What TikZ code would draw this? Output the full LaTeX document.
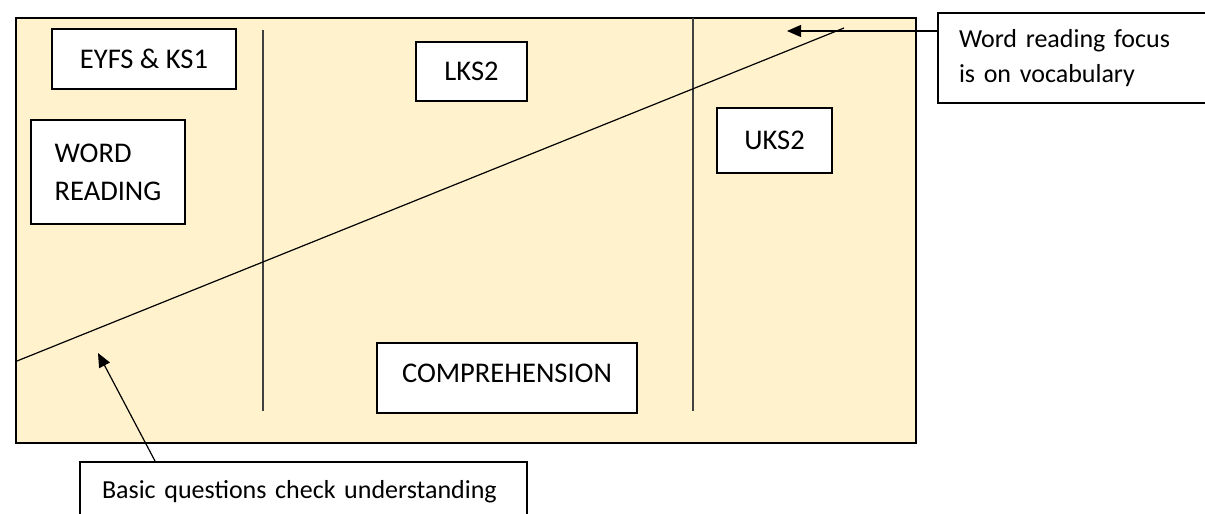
\documentclass[tikz,border=0pt]{standalone}
\usepackage{fontspec}
\setmainfont{Carlito}
\usetikzlibrary{arrows.meta}
\definecolor{cream}{HTML}{FFF2CC}
\begin{document}
\begin{tikzpicture}[x=1pt,y=-1pt,
  lbl/.style={draw=black, line width=2pt, fill=white, inner sep=0pt, text=black,
    font=\fontsize{28.5}{38}\selectfont},
  note/.style={draw=black, line width=2pt, fill=white, inner ysep=0pt, text=black,
    font=\fontsize{26}{35}\selectfont, align=left},
  divider/.style={draw=black!75, line width=1.2pt},
  slope/.style={draw=black, line width=1.2pt},
  arr/.style={draw=black, line width=1.2pt, -{Triangle[length=14pt,width=12pt]}}]
\useasboundingbox (0,0) rectangle (1205,514);
% main panel
\draw[fill=cream, line width=2pt] (16,18) rectangle (916,443);
% dividers
\coordinate (d1t) at (263,30);
\coordinate (d1b) at (263,411);
\coordinate (d2t) at (693,18);
\coordinate (d2b) at (693,411);
\draw[divider] (d1t) -- (d1b);
\draw[divider] (d2t) -- (d2b);
% diagonal
\coordinate (s1) at (17,361);
\coordinate (s2) at (844,28);
\draw[slope] (s1) -- (s2);
% labels
\node[lbl, minimum width=184pt, minimum height=60pt] (eyfs) at (144,59) {EYFS \& KS1};
\node[lbl, minimum width=154pt, minimum height=104pt, align=left] (word) at (108,172) {WORD\\READING};
\node[lbl, minimum width=111pt, minimum height=59pt] (lks) at (471.5,71.5) {LKS2};
\node[lbl, minimum width=115pt, minimum height=65pt] (uks) at (774.5,140.5) {UKS2};
\node[lbl, minimum width=260pt, minimum height=70pt, text height=19pt, text depth=10pt] (comp) at (507,378) {COMPREHENSION};
% callouts
\node[note, anchor=north west, minimum height=90pt, text width=258pt, inner xsep=21pt] (focus) at (937,12)
  {Word reading focus\\is on vocabulary};
\node[note, anchor=north west, text width=403pt, inner xsep=22pt, text height=36pt, text depth=30pt] (basic) at (79,461)
  {Basic questions check understanding};
% arrows
\coordinate (t1) at (787,31);
\coordinate (t2) at (98,353);
\draw[arr] ([yshift=-19pt]focus.north west) -- (t1);
\draw[arr] ([xshift=76pt]basic.north west) -- (t2);
\end{tikzpicture}
\end{document}
